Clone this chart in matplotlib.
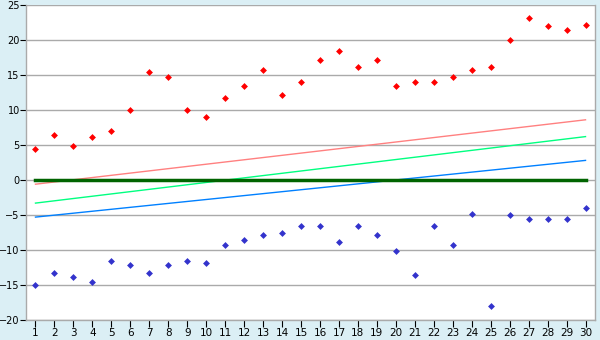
"""Scatter of high/low values with trend lines and zero baseline."""

import matplotlib
matplotlib.use("Agg")
import matplotlib.pyplot as plt

days = list(range(1, 31))
high_vals = [4.4, 6.5, 4.9, 6.1, 7.0, 10.0, 15.4, 14.7, 10.0, 9.0,
             11.7, 13.4, 15.7, 12.2, 14.0, 17.2, 18.4, 16.1, 17.2, 13.4,
             14.0, 14.0, 14.7, 15.7, 16.2, 20.0, 23.1, 22.0, 21.5, 22.2]
low_vals = [-15.0, -13.3, -13.9, -14.6, -11.6, -12.2, -13.3, -12.2, -11.6, -11.8,
            -9.3, -8.5, -7.8, -7.5, -6.6, -6.6, -8.9, -6.5, -7.8, -10.2,
            -13.6, -6.6, -9.3, -4.8, -18.0, -5.0, -5.6, -5.6, -5.6, -4.0]

# trend lines: values at first and last day
trend_x = [1, 30]
trend_red = [-0.6, 8.6]
trend_green = [-3.3, 6.2]
trend_blue = [-5.3, 2.8]
zero_line = [0, 0]

yticks = list(range(-20, 30, 5))

BG = "#dbeff5"
GRID = "#aaaaaa"

fig = plt.figure(figsize=(6, 3.4), dpi=100, facecolor=BG)
ax = fig.add_axes([26 / 600, 20 / 340, 569 / 600, 315 / 340])
ax.set_facecolor("white")

ax.plot(trend_x, trend_red, color="#ff8080", linewidth=1.0)
ax.plot(trend_x, trend_green, color="#00ff80", linewidth=1.0)
ax.plot(trend_x, trend_blue, color="#0080ff", linewidth=1.0)
ax.plot(trend_x, zero_line, color="#006400", linewidth=2.5)

ax.plot(days, high_vals, linestyle="none", marker="D", markersize=3.5,
        color="#ff0000", markeredgewidth=0)
ax.plot(days, low_vals, linestyle="none", marker="D", markersize=3.5,
        color="#3333cc", markeredgewidth=0)

ax.set_xlim(0.5, 30.5)
ax.set_ylim(-20, 25)
ax.set_xticks(days)
ax.set_yticks(yticks)
ax.yaxis.grid(True, color=GRID, linewidth=1.0)
ax.set_axisbelow(True)

for side in ("left", "bottom", "right"):
    ax.spines[side].set_color(GRID)
    ax.spines[side].set_linewidth(1.0)
ax.spines["top"].set_visible(False)

ax.tick_params(axis="x", direction="out", length=5, color="black",
               labelsize=7.5, pad=1)
ax.tick_params(axis="y", direction="out", length=4, color="black",
               labelsize=7, pad=0.5)

fig.savefig("out.png", dpi=100, facecolor=BG)
